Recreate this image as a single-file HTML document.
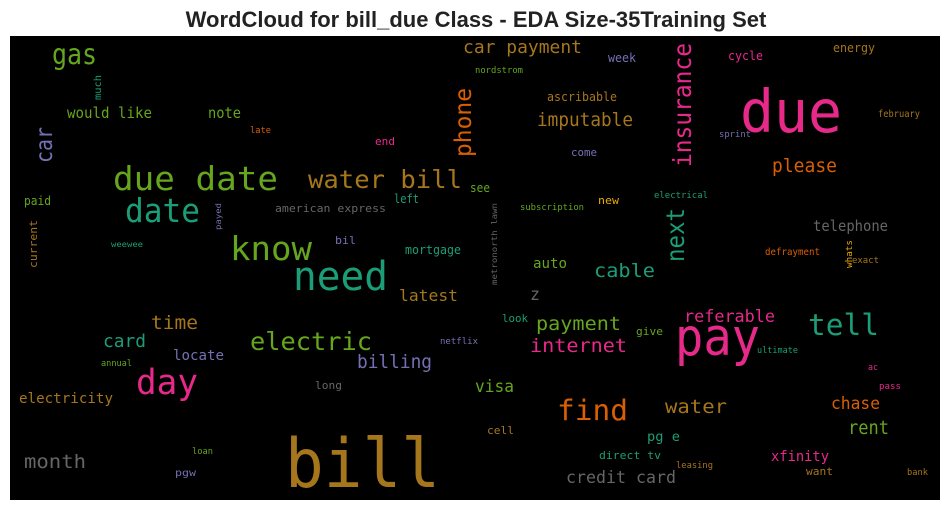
<!DOCTYPE html>
<html><head><meta charset="utf-8"><style>
html,body{margin:0;padding:0;background:#fff;width:950px;height:511px;overflow:hidden}
svg text{font-family:"DejaVu Sans Mono","Liberation Mono",monospace}
.t{font-family:"Liberation Sans",Arial,sans-serif;font-weight:bold}
</style></head><body>
<svg id="c" width="950" height="511" xmlns="http://www.w3.org/2000/svg">
<text class="t" x="476" y="27" text-anchor="middle" font-size="22" fill="#222">WordCloud for bill_due Class - EDA Size-35Training Set</text>
<rect x="10" y="36" width="930" height="464" fill="#000"/>
<g id="words"></g>
</svg>
<script>
const C={t:'#1b9e77',o:'#d95f02',p:'#7570b3',k:'#e7298a',g:'#66a61e',y:'#e6ab02',b:'#a6761d',r:'#666666'};
// word, x-left, x-right (or for vertical: x baseline, y-bottom, y-top), baseline, size, color, vertical
const words=[
['gas',52,97,64,31,'g',0],['car payment',463,582,53,18,'b',0],['week',608,636,62,12,'p',0],
['cycle',728,763,60,12,'k',0],['energy',833,875,52,12,'b',0],['nordstrom',475,523,73,9,'g',0],
['would like',67,152,118,15,'g',0],['note',208,241,118,15,'g',0],['late',250,271,133,9,'o',0],
['end',375,395,145,11,'k',0],['ascribable',547,617,101,12,'b',0],['imputable',537,633,126,19,'b',0],
['due',740,842,132,64,'k',0],['february',878,920,117,10,'b',0],['sprint',719,751,137,9,'p',0],
['come',571,597,156,11,'p',0],['please',772,837,172,19,'o',0],['due date',113,278,190,36,'g',0],
['water bill',308,462,188,27,'b',0],['date',125,200,222,36,'t',0],['paid',24,51,205,12,'g',0],
['american express',275,386,212,11,'r',0],['left',394,419,203,12,'t',0],['see',470,490,192,12,'g',0],
['subscription',520,584,210,9,'g',0],['new',598,619,204,11,'y',0],['electrical',654,708,198,9,'t',0],
['telephone',813,888,231,15,'r',0],['weewee',111,143,247,8,'t',0],['know',230,312,260,36,'g',0],
['bil',335,356,244,11,'p',0],['mortgage',405,461,254,12,'t',0],['auto',533,567,268,14,'g',0],
['cable',594,655,277,19,'t',0],['defrayment',765,820,255,10,'o',0],['exact',852,879,263,9,'b',0],
['need',293,388,290,44,'t',0],['latest',399,458,301,16,'b',0],['z',530,540,300,17,'r',0],
['time',151,198,329,19,'b',0],['card',103,146,347,18,'t',0],['electric',250,372,350,27,'g',0],
['locate',173,224,360,14,'p',0],['annual',101,132,366,9,'g',0],['billing',357,432,368,19,'p',0],
['netflix',440,478,344,9,'p',0],['look',502,528,322,11,'t',0],['payment',536,621,330,19,'g',0],
['internet',530,627,352,19,'k',0],['give',636,663,335,11,'g',0],['referable',684,775,322,17,'k',0],
['pay',675,760,355,56,'k',0],['tell',808,879,335,32,'t',0],['ultimate',757,798,353,9,'t',0],
['ac',868,878,370,9,'k',0],['pass',879,901,389,9,'k',0],['day',136,198,394,38,'k',0],
['long',315,342,389,11,'r',0],['visa',475,514,392,17,'g',0],['electricity',19,113,403,14,'b',0],
['find',557,628,420,31,'o',0],['water',665,727,413,19,'b',0],['chase',831,880,409,17,'o',0],
['rent',848,889,434,19,'g',0],['cell',487,514,434,11,'b',0],['pg e',647,680,441,13,'t',0],
['bill',285,440,487,74,'b',0],['direct tv',599,661,459,11,'t',0],['xfinity',771,829,461,14,'k',0],
['loan',192,213,454,9,'g',0],['month',24,86,468,19,'r',0],['pgw',175,196,476,10,'p',0],
['leasing',676,713,468,9,'b',0],['want',806,833,475,11,'b',0],['bank',907,928,475,9,'b',0],
['credit card',566,676,483,17,'r',0],
['much',101,100,75,10,'t',1],['car',52,163,127,25,'p',1],['phone',471,157,88,25,'o',1],
['insurance',691,167,43,27,'k',1],['payed',221,230,203,8,'p',1],['next',684,262,208,27,'t',1],
['current',37,268,220,11,'b',1],['metronorth lawn',497,285,203,8,'r',1],['whats',852,268,240,9,'y',1]
];
const SCALE=0.92;
const g=document.getElementById('words');
const NS='http://www.w3.org/2000/svg';
words.forEach(w=>{
  const t=document.createElementNS(NS,'text');
  
  
  t.textContent=w[0];
  t.setAttribute('font-size',(w[4]*(w[4]>20?SCALE:1)).toFixed(1));
  t.setAttribute('fill',C[w[5]]);
  t.setAttribute('lengthAdjust','spacingAndGlyphs');
  if(!w[6]){
    t.setAttribute('x',w[1]);t.setAttribute('y',w[3]);
    t.setAttribute('textLength',w[2]-w[1]);
  }else{
    t.setAttribute('transform','translate('+w[1]+','+w[2]+') rotate(-90)');
    t.setAttribute('textLength',w[2]-w[3]);
  }
  g.appendChild(t);
});
</script>
</body></html>
